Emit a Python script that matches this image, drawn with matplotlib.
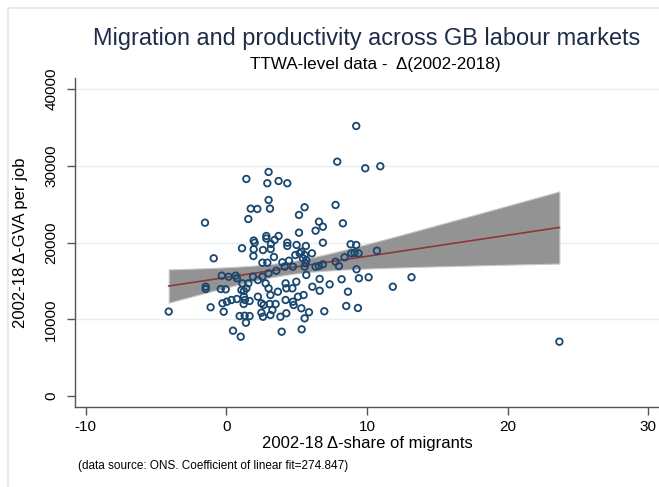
import numpy as np
import matplotlib.pyplot as plt
from matplotlib.patches import Rectangle

plt.rcParams['font.family'] = ['Liberation Sans', 'DejaVu Sans']
plt.rcParams['axes.unicode_minus'] = False

# change in migrant share (pp) and change in GVA per job, one point per TTWA
mig_share = [-4.10, -1.52, -1.47, -1.47, -0.90, -1.12, -0.40, -0.33, 0.16, -0.05,
             0.66, 0.75, 1.14, 1.25, 1.07, 1.42, 1.56, 1.89, 2.24, 2.56,
             2.79, 3.00, 3.00, 3.55, 3.66, 4.14, 4.21, 4.26, 4.69, 4.73,
             4.97, 5.56, 5.68, 5.49, 5.09, 4.73, 4.21, 3.13, 2.24, 1.25,
             1.32, 1.65, 1.23, 0.75, 0.36, 0.04, -0.28, -0.19, 0.94, 1.30,
             1.65, 1.39, 0.47, 1.02, 2.49, 2.60, 3.13, 3.84, 4.26, 3.93,
             5.35, 5.56, 4.78, 5.33, 2.65, 3.08, 3.50, 2.49, 3.27, 1.11,
             2.01, 3.17, 3.43, 4.33, 4.33, 4.99, 5.65, 1.94, 2.60, 3.15,
             1.92, 2.56, 2.91, 3.38, 3.98, 4.45, 4.90, 5.33, 5.56, 5.44,
             2.84, 2.84, 3.71, 5.16, 1.94, 3.00, 1.42, 2.91, 3.71, 4.33,
             3.00, 1.73, 2.20, 3.10, 5.56, 5.16, 1.56, 9.23, 7.88, 9.87,
             10.94, 7.76, 6.58, 6.86, 6.34, 8.28, 6.86, 8.83, 9.23, 8.88,
             9.11, 9.40, 10.70, 8.40, 7.76, 8.00, 6.86, 6.34, 6.58, 5.63,
             5.21, 6.08, 5.68, 9.25, 9.42, 10.11, 11.83, 13.16, 8.19, 7.34,
             6.63, 6.11, 6.63, 8.64, 8.52, 9.35, 6.96, 5.87, 23.67]
gva_job = [11000, 22580, 14240, 13940, 17940, 11560, 13940, 15680, 15540, 13900,
           15680, 15340, 14680, 13680, 13810, 14030, 14680, 15540, 15110, 15540,
           14680, 15990, 14030, 16330, 13590, 16850, 14680, 14030, 14030, 16850,
           14890, 16850, 15770, 13160, 12940, 12290, 12510, 13160, 12940, 12940,
           12510, 12380, 11990, 12640, 12510, 12290, 12080, 10980, 10420, 10460,
           10420, 9550, 8510, 7730, 10850, 10330, 10550, 10330, 10780, 8380,
           8690, 10120, 11860, 11430, 11860, 11990, 11990, 12080, 11210, 19250,
           19980, 19810, 20330, 19980, 19550, 19680, 19550, 19120, 19020, 19150,
           18240, 17370, 17370, 18110, 17420, 17630, 18370, 18800, 18370, 17940,
           20850, 20520, 20850, 21280, 20260, 29190, 28280, 27720, 28010, 27720,
           25540, 24410, 24370, 24410, 24590, 23590, 23060, 35180, 30530, 29670,
           29930, 24890, 22710, 22060, 21540, 22500, 19980, 19770, 19680, 18590,
           18670, 18590, 18930, 18070, 17500, 16940, 17160, 16850, 16940, 17290,
           18590, 18590, 17720, 16510, 15340, 15470, 14240, 15470, 15210, 14550,
           15250, 14240, 13720, 13590, 11730, 11470, 11040, 10910, 7080]

fit_coef = 274.847
x_ticks = [-10, 0, 10, 20, 30]
y_ticks = [0, 10000, 20000, 30000, 40000]

x = np.array(mig_share)
y = np.array(gva_job)
n = len(x)

# linear fit with the reported slope, through the means; 95% CI of the prediction
b0 = y.mean() - fit_coef * x.mean()
resid = y - (b0 + fit_coef * x)
s = np.sqrt(np.sum(resid ** 2) / (n - 2))
sxx = np.sum((x - x.mean()) ** 2)
xg = np.linspace(x.min(), x.max(), 200)
yg = b0 + fit_coef * xg
se = s * np.sqrt(1.0 / n + (xg - x.mean()) ** 2 / sxx)
lo, hi = yg - 1.976 * se, yg + 1.976 * se

fig = plt.figure(figsize=(6.59, 4.87), dpi=100)
ax = fig.add_axes([75 / 659, 80 / 487, 584 / 659, 329 / 487])

for t in y_ticks[1:]:
    ax.axhline(t, color='#e6eef0', lw=1.0, zorder=0)

ax.fill_between(xg, lo, hi, color='#939393', edgecolor='#c8c8c8', lw=0.8, zorder=1)
ax.plot(xg, yg, color='#90353b', lw=1.2, zorder=2)
ax.scatter(x, y, s=22, facecolors='none', edgecolors='#1a476f', linewidths=1.3, zorder=3)

ax.set_xlim(-10.76, 30.75)
ax.set_ylim(-1430, 41430)
ax.set_xticks(x_ticks)
ax.set_yticks(y_ticks)
ax.set_yticklabels([str(t) for t in y_ticks], rotation=90, va='center')
ax.tick_params(direction='out', length=6, width=1, color='#555555', labelsize=11, labelcolor='black')
ax.tick_params(axis='y', pad=6)
for side in ['top', 'right']:
    ax.spines[side].set_visible(False)
for side in ['left', 'bottom']:
    ax.spines[side].set_color('#555555')
    ax.spines[side].set_linewidth(1.0)

ax.set_xlabel('2002-18 \u0394-share of migrants', fontsize=12, labelpad=1)
ax.set_ylabel('2002-18 \u0394-GVA per job', fontsize=12, labelpad=12)

cx = (75 + 659) / 2 / 659
fig.text(cx, 1 - 38 / 487, 'Migration and productivity across GB labour markets',
         ha='center', va='center', fontsize=16.9, color='#1e2c48')
fig.text(cx + 8 / 659, 1 - 64 / 487, 'TTWA-level data -  \u0394(2002-2018)',
         ha='center', va='center', fontsize=12.3, color='black')
fig.text(78 / 659, 1 - 466 / 487, '(data source: ONS. Coefficient of linear fit=274.847)',
         ha='left', va='center', fontsize=8.5, color='black')

# faint outer frame of the graph region
fig.patches.append(Rectangle((8 / 659, -0.1), 1.2, 1.1 - 8 / 487, transform=fig.transFigure,
                             fill=False, edgecolor='#dfe8eb', lw=1.2))

fig.savefig('out.png', dpi=100, facecolor='white')
